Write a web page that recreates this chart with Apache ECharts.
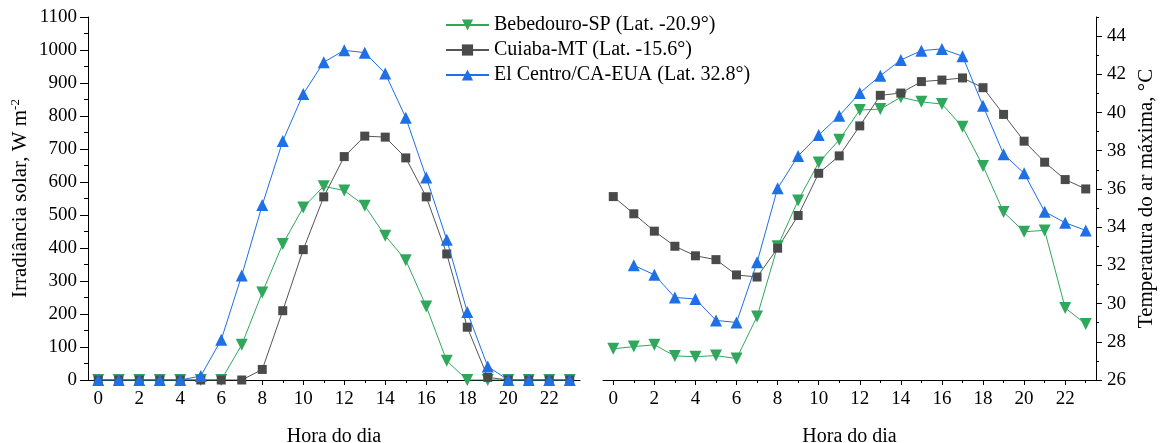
<!DOCTYPE html>
<html>
<head>
<meta charset="utf-8">
<script src="https://cdn.jsdelivr.net/npm/echarts@6/dist/echarts.min.js"></script>
<style>
  html, body { margin: 0; padding: 0; background: #fff; }
  #chart { width: 1161px; height: 443px; }
</style>
</head>
<body>
<div id="chart"></div>
<script>
var hours = [0, 1, 2, 3, 4, 5, 6, 7, 8, 9, 10, 11, 12, 13, 14, 15, 16, 17, 18, 19, 20, 21, 22, 23];
var names = ["Bebedouro-SP (Lat. -20.9°)", "Cuiaba-MT (Lat. -15.6°)", "El Centro/CA-EUA (Lat. 32.8°)"];

// irradiancia solar, W m-2
var radBebedouro = [0, 0, 0, 0, 0, 0, 0, 107, 265, 412, 523, 587, 574, 528, 437, 363, 223, 58, 0, 0, 0, 0, 0, 0];
var radCuiaba = [0, 0, 0, 0, 0, 0, 0, 0, 32, 210, 395, 555, 677, 739, 736, 673, 555, 382, 160, 8, 0, 0, 0, 0];
var radElCentro = [0, 0, 0, 0, 0, 12, 122, 317, 530, 724, 867, 963, 999, 992, 929, 795, 614, 425, 206, 41, 0, 0, 0, 0];

// temperatura do ar maxima, C
var tempBebedouro = [27.63, 27.75, 27.84, 27.26, 27.22, 27.28, 27.12, 29.32, 33.0, 35.4, 37.38, 38.57, 40.13, 40.18, 40.8, 40.56, 40.44, 39.25, 37.2, 34.79, 33.76, 33.83, 29.77, 28.93];
var tempCuiaba = [35.6, 34.7, 33.79, 33.0, 32.5, 32.3, 31.5, 31.39, 32.9, 34.61, 36.82, 37.73, 39.3, 40.9, 41.02, 41.62, 41.7, 41.81, 41.3, 39.9, 38.5, 37.4, 36.49, 36.0];
var tempElCentro = [null, 32.0, 31.51, 30.32, 30.24, 29.12, 29.01, 32.16, 36.03, 37.73, 38.82, 39.83, 41.02, 41.93, 42.75, 43.24, 43.33, 42.95, 40.35, 37.82, 36.82, 34.81, 34.23, 33.83];

var hourLabels = [0, 2, 4, 6, 8, 10, 12, 14, 16, 18, 20, 22];
var hourMinor = [1, 3, 5, 7, 9, 11, 13, 15, 17, 19, 21, 23];
var tempLabels = [26, 28, 30, 32, 34, 36, 38, 40, 42, 44];
var tempMinor = [27, 29, 31, 33, 35, 37, 39, 41, 43, 45];

var colors = ["#2fa85c", "#4a4a4a", "#1f6fe5"];
var font = "Liberation Serif";

function pairs(vals) {
  return hours.map(function (h, i) {
    return [h, vals[i] === null ? "-" : vals[i]];
  });
}

function plain(v) {
  return String(v);
}

function mkSeries(name, idx, vals, axisX, axisY) {
  return {
    name: name,
    type: "line",
    xAxisIndex: axisX,
    yAxisIndex: axisY,
    data: pairs(vals),
    symbol: idx === 1 ? "rect" : "triangle",
    symbolSize: idx === 1 ? 9 : 12,
    symbolRotate: idx === 0 ? 180 : 0,
    showAllSymbol: true,
    connectNulls: false,
    lineStyle: { width: 1, color: idx === 1 ? "#555" : colors[idx] },
    itemStyle: { color: colors[idx], borderWidth: 0 },
    z: idx === 2 ? 3 : 2,
  };
}

// main hour axis (line, labels, even ticks) or a bare one for the odd ticks
function hourAxis(gridIndex, major) {
  var ax = {
    type: "value",
    gridIndex: gridIndex,
    position: "bottom",
    min: -0.5,
    max: 23.5,
    splitLine: { show: false },
    axisLine: { show: major, onZero: false, lineStyle: { color: "#000", width: 1 } },
    axisTick: {
      show: true,
      inside: false,
      length: major ? 5 : 3,
      customValues: major ? hourLabels : hourMinor,
      lineStyle: { color: "#000", width: 1 },
    },
    axisLabel: {
      show: major,
      customValues: hourLabels,
      formatter: plain,
      margin: 10,
      color: "#000",
      fontFamily: font,
      fontSize: 19,
    },
  };
  if (major) {
    ax.name = "Hora do dia";
    ax.nameLocation = "middle";
    ax.nameGap = 47;
    ax.nameTextStyle = { color: "#000", fontFamily: font, fontSize: 20 };
  }
  return ax;
}

var leftRect = { left: 88, top: 17, width: 492, height: 363, outerBoundsMode: "none", containLabel: false };
var rightRect = { left: 603, top: 17, width: 493, height: 363, outerBoundsMode: "none", containLabel: false };

var myChart = echarts.init(document.getElementById("chart"));
var option = {
  backgroundColor: "#fff",
  animation: false,
  grid: [leftRect, rightRect, Object.assign({}, leftRect), Object.assign({}, rightRect)],
  legend: {
    data: names,
    orient: "vertical",
    left: 445,
    top: 15,
    padding: 0,
    itemWidth: 43,
    itemHeight: 14,
    itemGap: 5,
    textStyle: { color: "#000", fontFamily: font, fontSize: 20 },
  },
  xAxis: [hourAxis(0, true), hourAxis(1, true), hourAxis(2, false), hourAxis(3, false)],
  yAxis: [
    {
      type: "value",
      gridIndex: 0,
      min: 0,
      max: 1100,
      interval: 100,
      splitLine: { show: false },
      axisLine: { show: true, onZero: false, lineStyle: { color: "#000", width: 1 } },
      axisTick: { show: true, length: 8, lineStyle: { color: "#000" } },
      minorTick: { show: true, splitNumber: 2, length: 4, lineStyle: { color: "#000" } },
      axisLabel: { margin: 11, formatter: plain, color: "#000", fontFamily: font, fontSize: 19 },
      name: "Irradiância solar, W m{sup|-2}",
      nameLocation: "middle",
      nameGap: 57,
      nameRotate: 90,
      nameTextStyle: {
        color: "#000",
        fontFamily: font,
        fontSize: 21,
        rich: {
          sup: { fontFamily: font, fontSize: 13, color: "#000", verticalAlign: "top", padding: [0, 0, 9, 0] },
        },
      },
    },
    {
      type: "value",
      gridIndex: 1,
      position: "right",
      min: 26,
      max: 45,
      splitLine: { show: false },
      axisLine: { show: true, onZero: false, lineStyle: { color: "#000", width: 1 } },
      axisTick: { show: true, length: 6, customValues: tempLabels, lineStyle: { color: "#000" } },
      axisLabel: { customValues: tempLabels, formatter: plain, margin: 11, color: "#000", fontFamily: font, fontSize: 19 },
      name: "Temperatura do ar máxima, °C",
      nameLocation: "middle",
      nameGap: 40,
      nameRotate: 90,
      nameTextStyle: { color: "#000", fontFamily: font, fontSize: 21 },
    },
    { type: "value", gridIndex: 2, min: 0, max: 1100, show: false },
    {
      type: "value",
      gridIndex: 3,
      position: "right",
      min: 26,
      max: 45,
      splitLine: { show: false },
      axisLine: { show: false, onZero: false },
      axisTick: { show: true, length: 3, customValues: tempMinor, lineStyle: { color: "#000" } },
      axisLabel: { show: false },
    },
  ],
  series: [
    mkSeries(names[0], 0, radBebedouro, 0, 0),
    mkSeries(names[1], 1, radCuiaba, 0, 0),
    mkSeries(names[2], 2, radElCentro, 0, 0),
    mkSeries(names[0], 0, tempBebedouro, 1, 1),
    mkSeries(names[1], 1, tempCuiaba, 1, 1),
    mkSeries(names[2], 2, tempElCentro, 1, 1),
  ],
};
myChart.setOption(option);
window.addEventListener("resize", function () {
  myChart.resize();
});
</script>
</body>
</html>
